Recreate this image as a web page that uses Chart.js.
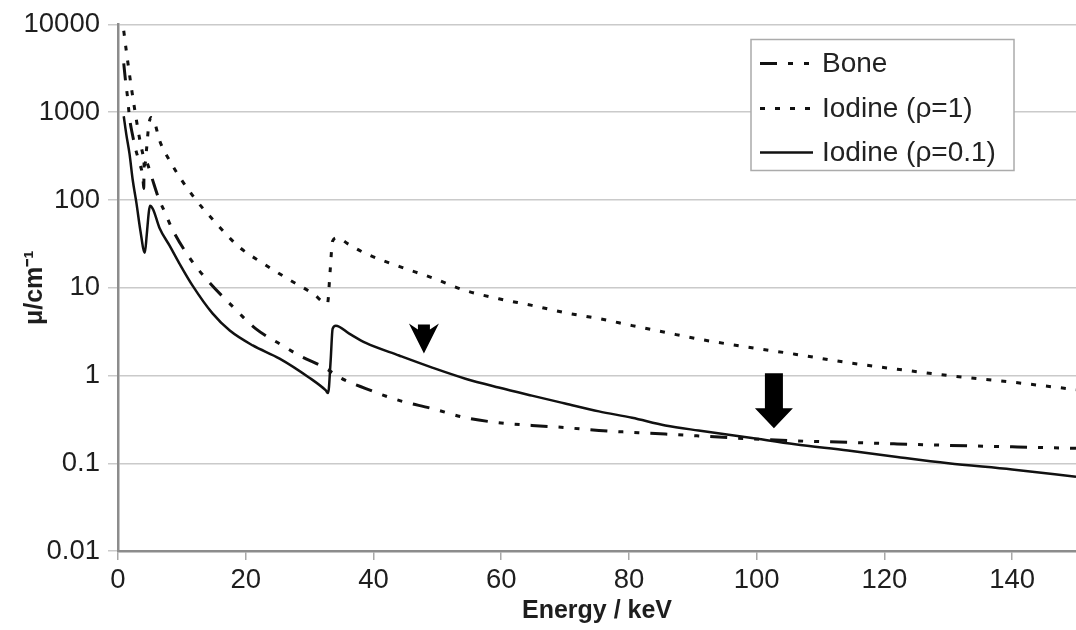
<!DOCTYPE html>
<html>
<head>
<meta charset="utf-8">
<script src="https://cdn.jsdelivr.net/npm/chart.js@4"></script>
<style>
html,body{margin:0;padding:0;background:#fff;}
#wrap{width:1076px;height:630px;}
</style>
</head>
<body>
<div id="wrap"><canvas id="c" width="1076" height="630"></canvas></div>
<script>
// ---- data ----
const seriesNames = ['Bone', 'Iodine (ρ=1)', 'Iodine (ρ=0.1)'];

const boneEnergy = [0.9, 1.2, 1.5, 1.8, 2.3, 2.8, 3.4, 3.9, 4.03, 4.1, 4.6, 5.3, 6.5, 7.0, 8.6, 11.2, 14.3, 17.5, 21.6, 25.3, 28.4, 32.6, 34.7, 38.8, 44, 49.2, 54.4, 59.6, 64.8, 70, 75.3, 80.5, 85.7, 90.9, 98.7, 106, 114.3, 122, 130, 140, 150];
const boneMu = [3600, 2200, 1470, 870, 540, 370, 260, 180, 135, 300, 260, 180, 98, 82, 45, 22, 11.5, 6.6, 3.4, 2.3, 1.69, 1.2, 0.95, 0.71, 0.52, 0.42, 0.33, 0.29, 0.27, 0.255, 0.236, 0.225, 0.215, 0.205, 0.19, 0.18, 0.173, 0.166, 0.16, 0.154, 0.148];

const iodine1Energy = [0.9, 1.3, 2.1, 2.9, 3.5, 3.9, 4.2, 4.5, 4.8, 5.2, 5.7, 6.5, 8.1, 11.7, 15.4, 19, 22.7, 26.3, 30.5, 32.8, 33.2, 33.6, 34.3, 36.2, 38.8, 44, 49.2, 54.4, 59.6, 64.8, 70, 75.3, 80.5, 85.7, 90.9, 98.7, 106, 114.3, 122, 130, 140, 150];
const iodine1Mu = [8500, 5000, 1900, 800, 450, 330, 250, 400, 700, 870, 780, 480, 280, 112, 54, 29, 19, 13, 8.6, 6.6, 15, 34, 37, 31, 24.5, 17.5, 13, 9.3, 7.5, 6.3, 5.2, 4.45, 3.7, 3.1, 2.6, 2.1, 1.75, 1.4, 1.18, 1.0, 0.84, 0.69];

const iodine01Energy = [0.9, 1.3, 1.8, 2.3, 2.9, 3.5, 4.2, 4.5, 4.8, 5.0, 5.5, 6.5, 8.1, 9.6, 11.7, 14.8, 17.5, 21.1, 25.3, 29.9, 32.5, 32.9, 33.3, 33.6, 34.1, 36.2, 38.8, 44, 49.2, 54.4, 59.6, 64.8, 70, 75.3, 80.5, 85.7, 90.9, 98.7, 106, 114.3, 122, 130, 140, 150];
const iodine01Mu = [900, 560, 337, 170, 91, 45, 25, 40, 70, 86, 78, 48, 30, 19, 10.5, 5.1, 3.25, 2.2, 1.56, 0.95, 0.68, 0.63, 1.5, 3.4, 3.7, 3.0, 2.35, 1.69, 1.23, 0.92, 0.73, 0.59, 0.48, 0.39, 0.33, 0.27, 0.236, 0.197, 0.165, 0.14, 0.118, 0.1, 0.085, 0.07];

const xTicks = [0, 20, 40, 60, 80, 100, 120, 140];
const yTicks = [0.01, 0.1, 1, 10, 100, 1000, 10000];
const yTickLabels = ['0.01', '0.1', '1', '10', '100', '1000', '10000'];

// arrow annotations (tip position in data units)
const arrowEnergy = [47.9, 102.7];
const arrowMu = [1.78, 0.25];

// ---- styling ----
const FONT = "'Liberation Sans', Arial, Helvetica, sans-serif";
const INK = '#111';
const dashBone = [17, 11, 5, 11, 5, 11];
const dashDot = [5, 10];

function pts(xs, ys) { return xs.map((x, i) => ({ x: x, y: ys[i] })); }

const overlay = {
  id: 'overlay',
  afterDatasetsDraw(chart) {
    const { ctx, chartArea: a, scales: { x, y } } = chart;
    ctx.save();
    ctx.fillStyle = '#000';
    // small notched arrow
    {
      const cx = x.getPixelForValue(arrowEnergy[0]);
      const tip = y.getPixelForValue(arrowMu[0]);
      const top = tip - 30;
      ctx.beginPath();
      ctx.moveTo(cx - 15, top);
      ctx.lineTo(cx - 6, top + 6);
      ctx.lineTo(cx - 6, top + 1);
      ctx.lineTo(cx + 6, top + 1);
      ctx.lineTo(cx + 6, top + 6);
      ctx.lineTo(cx + 15, top);
      ctx.lineTo(cx, tip);
      ctx.closePath();
      ctx.fill();
    }
    // big block arrow
    {
      const cx = x.getPixelForValue(arrowEnergy[1]);
      const tip = y.getPixelForValue(arrowMu[1]);
      ctx.beginPath();
      ctx.moveTo(cx - 9, tip - 55);
      ctx.lineTo(cx + 9, tip - 55);
      ctx.lineTo(cx + 9, tip - 20);
      ctx.lineTo(cx + 19, tip - 20);
      ctx.lineTo(cx, tip);
      ctx.lineTo(cx - 19, tip - 20);
      ctx.lineTo(cx - 9, tip - 20);
      ctx.closePath();
      ctx.fill();
    }
    // legend box
    const L = a.right - 325, T = a.top + 15, W = 263, H = 131;
    ctx.fillStyle = '#fff';
    ctx.fillRect(L, T, W, H);
    ctx.strokeStyle = '#ababab';
    ctx.lineWidth = 1.5;
    ctx.strokeRect(L, T, W, H);
    const rows = [T + 24, T + 69, T + 113];
    const dashes = [dashBone, dashDot, []];
    const widths = [3, 3, 2.5];
    ctx.font = '28px ' + FONT;
    ctx.textBaseline = 'middle';
    ctx.textAlign = 'left';
    rows.forEach((ry, i) => {
      ctx.beginPath();
      ctx.setLineDash(dashes[i]);
      ctx.strokeStyle = INK;
      ctx.lineWidth = widths[i];
      ctx.moveTo(L + 9, ry);
      ctx.lineTo(L + 62, ry);
      ctx.stroke();
      ctx.setLineDash([]);
      ctx.fillStyle = '#222';
      ctx.fillText(seriesNames[i], L + 71, ry + 1);
    });
    ctx.restore();
  }
};

new Chart(document.getElementById('c'), {
  type: 'line',
  data: {
    datasets: [
      { label: seriesNames[0], data: pts(boneEnergy, boneMu), borderColor: INK, borderWidth: 3, borderDash: dashBone, cubicInterpolationMode: 'monotone', fill: false },
      { label: seriesNames[1], data: pts(iodine1Energy, iodine1Mu), borderColor: INK, borderWidth: 3, borderDash: dashDot, cubicInterpolationMode: 'monotone', fill: false },
      { label: seriesNames[2], data: pts(iodine01Energy, iodine01Mu), borderColor: INK, borderWidth: 2.5, cubicInterpolationMode: 'monotone', fill: false }
    ]
  },
  options: {
    responsive: false,
    animation: false,
    devicePixelRatio: 1,
    layout: { padding: { top: 24, right: 0, left: 0, bottom: 0 } },
    elements: { point: { radius: 0 } },
    plugins: { legend: { display: false }, tooltip: { enabled: false } },
    scales: {
      x: {
        type: 'linear', min: 0, max: 150,
        afterBuildTicks: ax => { ax.ticks = xTicks.map(v => ({ value: v })); },
        afterFit: ax => { ax.height = 79; },
        grid: { drawOnChartArea: false, drawTicks: true, tickLength: 9, color: '#a8a8a8', lineWidth: 1.5 },
        border: { color: '#8c8c8c', width: 2.5 },
        ticks: { font: { family: FONT, size: 27.5 }, color: '#1e1e1e', padding: 4, maxRotation: 0, autoSkip: false },
        title: { display: true, text: 'Energy / keV', font: { family: FONT, size: 25, weight: 'bold' }, color: '#1e1e1e', padding: { top: 0, bottom: 4 } }
      },
      y: {
        type: 'logarithmic', min: 0.01, max: 10000,
        afterBuildTicks: ax => { ax.ticks = yTicks.map(v => ({ value: v })); },
        afterFit: ax => { ax.width = 118; },
        grid: { drawOnChartArea: true, drawTicks: true, tickLength: 10, color: '#cacaca', lineWidth: 1.5 },
        border: { color: '#8c8c8c', width: 2.5 },
        ticks: {
          font: { family: FONT, size: 27.5 }, color: '#1e1e1e', padding: 8, autoSkip: false,
          callback: (v) => { const k = yTicks.indexOf(v); return k >= 0 ? yTickLabels[k] : ''; }
        },
        title: { display: true, text: 'μ/cm⁻¹', font: { family: FONT, size: 25, weight: 'bold' }, color: '#1e1e1e', padding: { top: 20, bottom: 0 } }
      }
    }
  },
  plugins: [overlay]
});
</script>
</body>
</html>
